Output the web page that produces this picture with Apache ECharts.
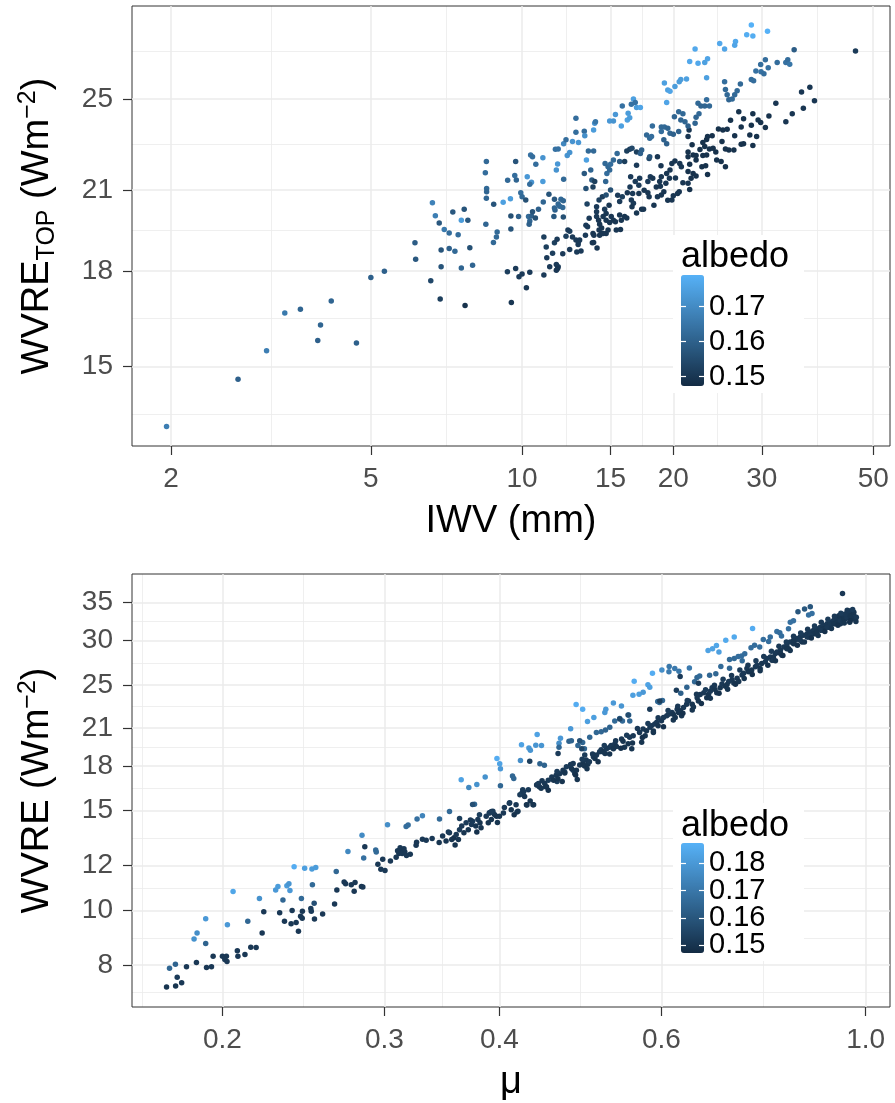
<!DOCTYPE html>
<html><head><meta charset="utf-8">
<script src="https://cdn.jsdelivr.net/npm/echarts@6/dist/echarts.min.js"></script>
<style>html,body{margin:0;padding:0;background:#fff}#c{width:895px;height:1103px}</style>
</head><body><div id="c"></div>
<script>
// ---------- Top panel: [IWV (mm), WVRE_TOP (W m^-2), albedo] ----------
const topLowIWV = [
[1.96,13.37,0.167],[2.72,14.63,0.160],[3.10,15.45,0.167],[3.37,16.61,0.166],[3.62,16.73,0.161],[3.97,16.23,0.161],
[3.92,15.76,0.160],[4.17,16.99,0.161],[4.68,15.68,0.160],[5.0,17.77,0.160],[5.32,17.99,0.160],[6.12,18.99,0.159],
[6.14,18.4,0.158],[6.58,17.66,0.154],[6.63,20.5,0.168],[6.72,20.0,0.167],[6.84,19.72,0.158],[7.0,19.48,0.166],
[6.9,18.73,0.157],[6.9,18.14,0.157],[6.87,17.06,0.152],[7.16,19.35,0.163],[7.16,18.79,0.160],[7.28,20.14,0.158],
[7.67,20.25,0.157],[7.46,19.29,0.163],[7.35,18.69,0.162],[7.87,18.81,0.156],[7.57,19.83,0.174],[7.8,19.83,0.158],
[7.57,18.1,0.161],[7.97,18.19,0.161],[7.7,16.85,0.149],[8.49,22.18,0.162],[8.45,21.71,0.163],[8.5,21.07,0.162],
[8.5,20.94,0.161],[8.49,20.68,0.161],[8.78,20.44,0.157],[8.47,19.68,0.161],[8.92,19.39,0.162],[8.89,19.2,0.162],
[8.77,19.0,0.162],[9.35,17.97,0.152],[9.52,16.94,0.150],[9.74,21.41,0.161],[9.71,22.18,0.157],[9.36,21.4,0.162],
[9.17,20.52,0.175],[9.48,20.66,0.174],[9.67,21.6,0.163],[9.5,19.5,0.157],[9.5,19.99,0.156],[9.71,18.08,0.151],
[9.86,17.8,0.151],[10.0,17.89,0.151],[10.36,17.95,0.151],[10.2,17.43,0.150],[9.84,19.97,0.160],[9.94,20.9,0.163],
[10.0,20.74,0.162],[10.17,20.61,0.156],[10.3,19.97,0.162],[10.44,19.99,0.160],[10.36,19.8,0.161],[10.33,19.68,0.160],
[10.63,19.91,0.156],[10.49,20.15,0.157],[10.78,20.25,0.160],[10.44,21.32,0.172],[10.36,21.24,0.163],[10.24,21.55,0.173],
[10.4,22.46,0.164],[10.49,22.39,0.163],[10.65,22.07,0.163],[11.0,22.34,0.172],[11.0,21.35,0.174],[11.02,20.53,0.161],
[11.31,20.84,0.157],[11.05,19.2,0.152],[11.17,18.84,0.152],[11.2,18.46,0.151],[11.05,17.86,0.151],[11.35,18.14,0.151]
];
const topMidIWV = [
[11.6,18.99,0.152],[11.74,19.12,0.151],[11.5,18.62,0.152],[11.7,18.22,0.151],[11.8,18.14,0.151],[11.57,19.97,0.158],
[11.63,20.22,0.160],[11.6,20.3,0.161],[11.6,20.64,0.158],[11.65,22.71,0.164],[11.8,22.72,0.164],[12.1,22.95,0.169],
[12.23,23.12,0.163],[12.3,22.44,0.172],[12.44,22.57,0.172],[11.77,22.08,0.173],[11.7,21.83,0.172],[12.1,21.44,0.162],
[11.95,20.64,0.162],[12.08,20.58,0.161],[12.05,20.32,0.162],[11.8,20.45,0.162],[11.88,20.37,0.162],[12.08,19.95,0.156],
[12.6,23.05,0.172],[12.8,24.1,0.163],[12.8,23.46,0.163],[12.95,23.0,0.173],[13.3,23.5,0.163],[13.33,23.3,0.171],
[13.43,22.25,0.175],[13.3,21.68,0.158],[13.4,21.07,0.156],[13.47,20.45,0.153],[13.55,22.63,0.162],[13.88,22.63,0.162],
[13.95,23.87,0.172],[13.88,23.56,0.174],[14.0,23.94,0.165],[13.7,21.83,0.161],[13.77,21.41,0.158],[13.84,21.13,0.152],
[13.95,21.35,0.152],[14.07,20.35,0.151],[14.07,20.15,0.151],[14.23,20.61,0.152],[14.45,20.74,0.152],[14.07,19.97,0.151],
[14.2,19.83,0.150],[14.27,19.68,0.150],[14.5,19.97,0.150],[14.6,20.25,0.151],[14.7,19.83,0.150],[14.94,19.74,0.150],
[14.7,20.09,0.150],[14.4,19.54,0.150],[15.05,19.97,0.150],[15.2,19.83,0.150],[15.64,20.03,0.150],[15.76,19.83,0.150],
[15.64,20.55,0.151],[16.0,19.97,0.150],[14.4,19.33,0.150],[13.84,19.33,0.150],[13.88,19.0,0.150],[14.27,19.27,0.150],
[14.7,19.33,0.150],[15.4,19.46,0.150],[15.7,19.48,0.150],[13.4,19.64,0.151],[13.37,19.27,0.151],[13.02,19.09,0.151],
[12.93,18.93,0.151],[12.85,18.66,0.151],[12.44,18.75,0.151],[12.44,19.42,0.152],[12.23,19.23,0.152],[12.05,18.6,0.151],
[11.77,18.08,0.150],[14.63,22.1,0.162],[14.75,21.68,0.163],[14.94,21.83,0.162],[14.83,21.96,0.162],[15.0,22.07,0.163],
[15.2,22.25,0.162],[15.46,22.53,0.162],[15.64,22.18,0.158],[14.67,21.35,0.161],[14.94,23.97,0.173],[15.2,23.97,0.172],
[15.76,23.74,0.175],[15.34,24.27,0.173],[15.83,24.66,0.164],[16.26,24.33,0.174],[16.2,24.02,0.175],[16.38,24.12,0.174],
[11.7,18.02,0.150],[12.34,19.46,0.151],[12.8,19.09,0.151],[12.95,19.03,0.151],[13.5,19.58,0.151],[13.8,18.99,0.150],
[13.9,19.27,0.150],[14.23,19.46,0.150],[14.5,19.33,0.150],[14.83,19.46,0.150],[15.34,19.77,0.150],[15.0,21.01,0.156],
[14.7,20.81,0.156],[15.83,20.74,0.152],[12.6,19.2,0.151],[13.1,18.7,0.151],[13.6,19.9,0.151],[14.1,18.8,0.150],
[14.9,20.4,0.150],[15.5,20.8,0.151]
];
const topHighIWV = [
[16.66,25.0,0.175],[16.8,24.83,0.164],[16.9,24.6,0.174],[17.2,24.6,0.176],[16.5,24.75,0.164],[16.16,22.63,0.152],
[16.0,22.18,0.152],[16.38,22.71,0.152],[16.55,22.75,0.154],[16.9,22.59,0.152],[17.2,22.53,0.160],[17.3,22.68,0.160],
[16.9,22.03,0.151],[17.14,21.48,0.151],[17.08,21.2,0.151],[16.8,21.35,0.151],[16.6,20.87,0.151],[16.5,20.61,0.151],
[16.66,20.48,0.151],[17.3,20.25,0.150],[17.45,20.25,0.150],[17.9,20.74,0.150],[17.8,20.9,0.150],[18.0,21.55,0.151],
[18.2,21.48,0.150],[17.8,21.35,0.151],[17.9,22.31,0.154],[17.95,23.19,0.162],[17.7,23.34,0.162],[18.1,23.27,0.163],
[18.17,23.74,0.163],[18.6,22.39,0.150],[18.79,21.35,0.150],[18.5,21.13,0.150],[18.85,21.16,0.150],[18.93,21.55,0.150],
[18.6,20.74,0.150],[18.93,20.81,0.150],[19.15,20.94,0.150],[19.33,21.28,0.150],[19.65,21.48,0.150],[19.7,21.83,0.150],
[19.4,21.68,0.150],[19.87,20.61,0.150],[20.0,20.78,0.150],[20.4,20.87,0.150],[20.55,20.94,0.150],[19.87,22.1,0.150],
[20.15,22.2,0.150],[20.6,22.1,0.150],[20.75,21.96,0.150],[21.4,22.59,0.149],[21.4,22.39,0.149],[21.56,22.07,0.149],
[21.9,22.46,0.149],[22.2,22.44,0.149],[22.2,22.25,0.149],[22.9,22.44,0.149],[23.3,22.46,0.149],[22.8,21.96,0.149],
[23.2,22.0,0.149],[21.4,21.76,0.149],[21.9,21.68,0.149],[21.7,21.48,0.149],[21.56,21.03,0.149],[21.4,21.28,0.150],
[22.2,21.58,0.149],[23.4,21.64,0.149],[21.4,23.27,0.150],[21.5,23.56,0.150],[23.1,22.83,0.149],[22.9,23.0,0.149],
[23.3,23.14,0.149],[23.4,23.27,0.149],[21.4,23.74,0.160],[22.1,23.87,0.161],[22.2,24.14,0.161],[22.5,24.3,0.162],
[22.4,24.8,0.162],[22.7,24.66,0.161],[23.3,24.96,0.163],[23.6,24.66,0.162],[23.1,24.66,0.161],[20.5,24.4,0.162],
[20.1,24.17,0.161],[20.7,24.02,0.161],[21.1,23.94,0.161],[20.9,24.3,0.162],[18.93,23.7,0.162],[19.2,23.7,0.162],
[19.5,23.64,0.161],[19.7,23.41,0.161],[20.0,23.37,0.160],[19.15,23.12,0.160],[19.4,22.95,0.160],[18.93,23.49,0.163],
[19.2,25.77,0.175],[19.5,25.43,0.175],[19.7,25.37,0.176],[19.4,24.83,0.176],[20.15,25.6,0.174],[20.55,25.84,0.174],
[20.7,25.95,0.174],[21.25,25.97,0.175],[21.56,26.86,0.177],[22.1,27.5,0.177],[22.4,26.77,0.177],[23.1,26.8,0.175],
[23.4,27.0,0.176],[23.3,26.03,0.175],[24.74,27.8,0.177],[25.3,27.5,0.176],[26.6,27.9,0.177],[26.5,27.7,0.176],
[28.0,28.27,0.178],[28.6,28.8,0.179],[28.8,28.2,0.178],[30.8,28.45,0.179],[25.3,25.84,0.163],[25.4,25.46,0.162],
[25.6,25.2,0.162],[25.8,24.96,0.161],[26.2,25.0,0.162],[26.5,25.2,0.162],[26.8,25.4,0.162],[27.2,25.72,0.162],
[28.6,25.95,0.163],[28.9,25.88,0.163],[29.2,26.37,0.164],[29.9,26.34,0.164],[30.3,26.23,0.163],[30.9,26.54,0.164],
[29.85,26.7,0.163],[30.5,26.94,0.163],[32.2,26.8,0.163],[33.5,26.8,0.164],[33.8,26.94,0.163],[34.1,26.72,0.165],
[34.8,27.46,0.159],[36.0,25.34,0.150],[37.4,25.57,0.150],[38.2,24.91,0.150],[36.3,24.56,0.150],[34.5,24.3,0.150],
[33.5,23.94,0.150],[46.1,27.4,0.151],[25.1,23.56,0.149],[25.6,23.59,0.149],[26.5,23.3,0.149],[27.3,23.7,0.149],
[27.6,24.07,0.149],[28.6,23.78,0.149],[28.8,24.3,0.149],[29.5,24.02,0.149],[29.85,23.9,0.149],[30.5,23.67,0.149],
[28.4,23.34,0.149],[29.3,23.27,0.149],[28.8,22.87,0.149],[27.6,22.95,0.149],[27.3,22.93,0.149],[25.4,22.72,0.149],
[25.8,22.68,0.149],[26.4,22.68,0.149],[25.0,23.05,0.149],[25.4,21.96,0.149],[24.4,22.25,0.149],[24.9,22.18,0.149],
[23.6,22.72,0.149],[24.3,22.59,0.149],[24.0,22.75,0.149],[20.5,23.49,0.160],[17.95,22.39,0.157],[16.45,21.55,0.151],
[16.4,21.13,0.151],[16.16,19.91,0.150],[16.55,20.35,0.150],[17.08,20.87,0.150],[16.2,20.9,0.150],[16.9,20.1,0.150],
[17.5,21.0,0.150],[18.3,20.4,0.150],[18.9,22.0,0.150],[19.5,20.6,0.150],[20.2,21.5,0.150],[20.9,21.3,0.150],
[21.8,22.9,0.149],[22.6,22.7,0.149],[23.9,23.3,0.149],[24.6,23.6,0.149],[26.0,24.0,0.149],[27.0,24.4,0.149],
[31.0,24.2,0.149],[32.0,24.8,0.150]
];

// ---------- Bottom panel: [mu, WVRE (W m^-2), albedo] ----------
const botLowMu = [
[0.1739,7.32,0.150],[0.1779,7.35,0.150],[0.1806,7.45,0.151],[0.1786,7.62,0.152],[0.1752,7.90,0.165],[0.1778,8.03,0.164],
[0.1828,7.95,0.151],[0.1874,8.09,0.151],[0.1922,7.93,0.151],[0.1946,7.95,0.151],[0.1954,8.30,0.151],[0.2000,8.30,0.151],
[0.2020,8.30,0.151],[0.2012,8.19,0.151],[0.2023,8.12,0.151],[0.2076,8.49,0.151],[0.2079,8.30,0.151],[0.2116,8.36,0.151],
[0.2147,8.61,0.151],[0.2176,8.60,0.151],[0.1863,8.90,0.178],[0.1877,9.12,0.177],[0.1918,9.67,0.180],[0.1918,8.74,0.164],
[0.2025,9.43,0.180],[0.2054,10.8,0.184],[0.2131,9.57,0.165],[0.2194,10.5,0.178],[0.2209,9.12,0.151],[0.2218,9.95,0.151],
[0.2285,10.87,0.180],[0.2298,11.02,0.181],[0.2350,11.06,0.181],[0.2362,11.15,0.179],[0.2368,10.84,0.180],[0.2393,11.94,0.186],
[0.2457,11.87,0.182],[0.2502,11.83,0.181],[0.2526,11.91,0.181],[0.2505,11.10,0.166],[0.2437,10.50,0.166],[0.2327,10.43,0.165],
[0.2308,9.90,0.151],[0.2336,9.57,0.151],[0.2381,10.0,0.151],[0.2375,9.47,0.151],[0.2405,9.52,0.151],[0.2419,9.19,0.151],
[0.2432,9.76,0.151],[0.2443,9.97,0.151],[0.2442,9.69,0.151],[0.2495,10.08,0.152],[0.2498,9.97,0.152],[0.2516,10.29,0.158],
[0.2518,9.66,0.151],[0.2570,9.85,0.151],[0.2648,10.26,0.151],[0.2659,11.72,0.165],[0.2663,10.87,0.151],[0.2712,11.23,0.151],
[0.2722,11.15,0.151],[0.2761,11.10,0.151],[0.2781,10.81,0.151],[0.2787,11.20,0.151],[0.2832,11.02,0.151],[0.2842,11.00,0.151],
[0.2738,12.71,0.175],[0.2836,13.58,0.176],[0.2848,12.37,0.168],[0.2856,12.95,0.151],[0.2935,12.79,0.166],[0.2939,12.68,0.166],
[0.2951,12.06,0.151],[0.2973,11.82,0.151],[0.3004,11.76,0.151],[0.2987,12.31,0.151],[0.3023,14.17,0.177],[0.3045,12.23,0.151],
[0.3089,12.42,0.151],[0.3110,12.60,0.151],[0.3125,12.79,0.151],[0.3136,12.60,0.151],[0.3157,12.68,0.151],[0.3200,12.56,0.151],
[0.3167,14.07,0.167],[0.3183,14.15,0.167],[0.3255,14.50,0.168],[0.3299,14.70,0.174],[0.3247,13.03,0.151],[0.3251,13.20,0.151],
[0.3299,13.36,0.151],[0.3120,12.90,0.151],[0.3150,12.85,0.151],[0.3170,12.50,0.151],[0.3100,12.75,0.151],[0.3330,13.30,0.151],
[0.3380,13.40,0.151]
];
const botUpperBands = [
[0.3635,17.02,0.183],[0.3705,16.48,0.175],[0.378,16.69,0.178],[0.386,17.21,0.178],[0.3975,18.56,0.186],[0.4003,18.16,0.183],
[0.401,17.80,0.180],[0.4216,18.40,0.177],[0.4227,19.62,0.183],[0.4306,19.36,0.180],[0.4322,19.19,0.179],[0.4381,19.58,0.179],
[0.4396,20.45,0.183],[0.4444,19.55,0.179],[0.4643,19.73,0.177],[0.466,20.14,0.180],[0.478,20.93,0.180],[0.4846,23.12,0.186],
[0.4926,22.66,0.186],[0.4986,21.56,0.182],[0.5066,21.92,0.182],[0.5207,22.37,0.180],[0.522,22.66,0.180],[0.532,23.24,0.180],
[0.5428,22.98,0.179],[0.5604,25.40,0.186],[0.5586,24.00,0.182],[0.5673,24.10,0.182],[0.5731,24.30,0.180],[0.58,25.05,0.183],
[0.5827,24.80,0.182],[0.5866,26.25,0.186],[0.6006,26.60,0.177],[0.6117,26.98,0.170],[0.6113,26.40,0.171],[0.6203,26.76,0.171],
[0.6268,26.46,0.170],[0.6434,26.80,0.171],[0.6742,28.80,0.183],[0.6818,29.00,0.183],[0.6885,29.38,0.184],[0.6928,28.62,0.182],
[0.7047,30.00,0.185],[0.7198,30.40,0.185],[0.7536,31.50,0.186],
[0.3443,14.50,0.166],[0.353,14.95,0.166],[0.3758,15.40,0.165],[0.401,16.60,0.165],[0.4133,17.28,0.165],[0.4146,17.10,0.165],
[0.4315,18.35,0.153],[0.4426,18.16,0.164],[0.4476,18.05,0.164],[0.4632,18.94,0.152],[0.4643,19.43,0.165],[0.476,19.90,0.164],
[0.4868,19.55,0.165],[0.4926,19.80,0.165],[0.4948,19.30,0.165],[0.5014,20.22,0.165],[0.5098,20.63,0.165],[0.516,20.68,0.165],
[0.5216,20.83,0.164],[0.5272,21.06,0.164],[0.5338,21.62,0.166],[0.5405,21.83,0.166],[0.5442,21.62,0.166],[0.5527,22.14,0.166],
[0.5542,21.62,0.165],[0.597,23.30,0.166],[0.6015,23.50,0.166],[0.5827,22.66,0.152],[0.6228,24.50,0.152],[0.6393,24.80,0.164],
[0.6287,25.90,0.152],[0.6518,25.35,0.165],[0.6558,25.80,0.165],[0.6602,25.95,0.166],[0.6768,26.02,0.165],[0.6874,26.20,0.165],
[0.6961,26.98,0.166],[0.7114,27.76,0.166],[0.7198,27.86,0.166],[0.727,28.10,0.167],[0.733,28.15,0.167],[0.739,28.40,0.167],
[0.7343,27.60,0.166],[0.7507,29.10,0.167],[0.7574,29.40,0.167],[0.7672,29.20,0.167],[0.7741,30.10,0.167],[0.7877,30.40,0.167],
[0.7845,29.85,0.167],[0.8009,31.10,0.168],[0.8067,30.95,0.167],[0.8102,30.55,0.167],[0.8245,31.45,0.168],[0.8282,32.30,0.168],
[0.8348,32.50,0.168],[0.8443,33.70,0.160],[0.8583,34.07,0.160],[0.8707,34.40,0.160],[0.867,33.25,0.168],[0.8744,33.45,0.168],
[0.9438,36.30,0.151],[0.6297,24.20,0.163],[0.6582,25.20,0.152],[0.7114,26.78,0.165],[0.5944,23.40,0.165],
[0.362,14.53,0.153],[0.374,15.38,0.158],[0.3805,14.75,0.153],[0.3902,14.88,0.153],[0.3935,14.97,0.152],[0.4104,15.50,0.152],
[0.4179,14.92,0.152],[0.4285,15.35,0.152],[0.4357,15.37,0.152],[0.4395,16.68,0.152],[0.449,16.54,0.152],[0.462,16.90,0.153],
[0.471,17.56,0.156],[0.4809,17.68,0.152],[0.4915,19.31,0.155],[0.4952,18.81,0.152],[0.4789,19.95,0.164],[0.489,19.95,0.158],
[0.5405,21.78,0.155],[0.5519,22.14,0.157],[0.5975,23.44,0.153]
];
const botDarkRibbon = [
[0.344,13.18,0.150],[0.347,13.53,0.151],[0.350,13.26,0.150],[0.353,13.71,0.151],[0.355,13.35,0.150],[0.357,13.44,0.149],
[0.359,13.62,0.151],[0.361,13.35,0.150],[0.362,13.89,0.152],[0.364,14.09,0.151],[0.366,13.71,0.150],[0.368,14.28,0.152],
[0.370,13.89,0.150],[0.373,14.18,0.151],[0.374,14.37,0.152],[0.377,14.09,0.150],[0.379,14.47,0.151],[0.381,14.28,0.150],
[0.382,13.99,0.150],[0.387,14.67,0.151],[0.389,14.28,0.150],[0.390,14.87,0.152],[0.392,14.47,0.150],[0.395,14.77,0.151],
[0.397,14.67,0.150],[0.400,14.67,0.150],[0.404,14.87,0.151],[0.410,15.47,0.152],[0.412,15.06,0.150],[0.417,15.37,0.151],
[0.419,14.97,0.150],[0.421,16.00,0.152],[0.423,16.10,0.153],[0.424,16.33,0.152],[0.426,15.89,0.151],[0.428,15.37,0.150],
[0.430,16.33,0.152],[0.435,15.37,0.150],[0.439,16.65,0.151],[0.441,16.76,0.152],[0.442,16.54,0.151],[0.444,16.43,0.150],
[0.448,16.76,0.151],[0.450,16.54,0.150],[0.452,16.98,0.152],[0.456,17.21,0.151],[0.458,16.98,0.150],[0.461,17.33,0.151],
[0.463,17.09,0.150],[0.465,17.44,0.151],[0.469,17.68,0.151],[0.471,17.49,0.150],[0.473,17.94,0.152],[0.479,17.82,0.150],
[0.481,18.18,0.151],[0.483,17.44,0.150],[0.485,17.68,0.150],[0.486,17.03,0.150],[0.489,18.06,0.151],[0.493,18.18,0.150],
[0.495,17.99,0.150],[0.497,18.43,0.151],[0.499,18.13,0.150],[0.501,18.30,0.151],[0.506,18.68,0.151],[0.508,18.56,0.150],
[0.510,18.81,0.151],[0.514,19.06,0.151],[0.516,19.23,0.152],[0.518,19.06,0.150],[0.521,18.93,0.150],[0.523,19.31,0.151],
[0.527,19.43,0.151],[0.529,19.56,0.151],[0.532,19.31,0.150],[0.534,19.69,0.151],[0.536,19.49,0.150],[0.543,20.09,0.151],
[0.545,19.90,0.150],[0.547,19.43,0.150],[0.552,19.69,0.150],[0.554,20.22,0.151],[0.557,19.31,0.150],[0.559,20.36,0.151],
[0.568,20.63,0.151],[0.571,19.83,0.150],[0.573,20.92,0.151],[0.576,20.36,0.150],[0.578,20.77,0.150],[0.583,21.06,0.151],
[0.585,21.20,0.151],[0.588,20.63,0.150],[0.590,21.34,0.151],[0.593,21.49,0.151],[0.595,21.20,0.150],[0.600,21.63,0.151],
[0.603,21.92,0.151],[0.608,22.07,0.151],[0.611,22.22,0.151],[0.616,22.37,0.151],[0.618,22.22,0.150],[0.621,21.92,0.150],
[0.624,22.67,0.151],[0.626,22.37,0.150],[0.629,22.52,0.150],[0.631,22.07,0.150],[0.634,22.82,0.151],[0.639,23.13,0.151],
[0.642,23.44,0.151],[0.648,23.13,0.150],[0.650,22.88,0.150],[0.656,23.75,0.151],[0.658,23.44,0.150],[0.661,24.07,0.151],
[0.667,24.23,0.151],[0.672,23.75,0.150],[0.675,24.07,0.150],[0.678,24.40,0.151],[0.681,24.73,0.151],[0.686,24.56,0.150],
[0.689,24.23,0.150],[0.695,24.73,0.150],[0.698,25.12,0.151],[0.704,24.89,0.150],[0.707,25.06,0.150],[0.710,25.38,0.151],
[0.716,25.55,0.151],[0.719,25.23,0.150],[0.725,25.72,0.151],[0.728,25.38,0.150],[0.734,26.07,0.151],[0.737,26.24,0.151],
[0.743,26.76,0.151],[0.746,26.41,0.150],[0.752,26.58,0.150],[0.759,26.94,0.151],[0.762,27.12,0.151],[0.768,26.76,0.150],
[0.771,27.31,0.150],[0.778,27.49,0.151],[0.781,27.86,0.151],[0.788,28.05,0.151],[0.791,27.67,0.150],[0.794,28.05,0.150],
[0.798,28.43,0.151],[0.801,28.62,0.151],[0.808,28.81,0.151],[0.811,28.24,0.150],[0.815,29.19,0.151],[0.821,29.39,0.151],
[0.825,29.00,0.150],[0.828,29.80,0.151],[0.835,29.60,0.150],[0.839,30.00,0.151],[0.842,30.22,0.151],[0.849,30.42,0.151],
[0.853,29.80,0.150],[0.856,30.63,0.151],[0.864,30.83,0.151],[0.867,30.42,0.150],[0.871,31.04,0.151],[0.878,31.25,0.151],
[0.882,30.83,0.150],[0.885,31.45,0.151],[0.893,31.66,0.151],[0.897,31.25,0.150],[0.900,31.87,0.151],[0.908,32.09,0.151],
[0.912,31.66,0.150],[0.915,32.30,0.151],[0.923,32.52,0.151],[0.927,32.09,0.150],[0.931,32.73,0.151],[0.939,32.95,0.151],
[0.943,32.30,0.150],[0.947,33.17,0.151],[0.950,32.73,0.150],[0.954,33.40,0.151],[0.958,32.95,0.150],[0.962,33.62,0.151],
[0.966,32.73,0.150],[0.971,33.17,0.151],[0.975,32.73,0.150],[0.977,32.95,0.151],
[0.900,31.45,0.150],[0.915,31.87,0.151],[0.931,32.30,0.150],[0.939,32.52,0.151],[0.947,32.73,0.150],[0.954,32.95,0.151],
[0.962,33.17,0.150],[0.919,32.09,0.151],[0.935,33.17,0.150],[0.950,33.40,0.151],[0.961,32.30,0.150],[0.864,30.42,0.151],
[0.878,30.83,0.150],[0.893,31.25,0.151],[0.835,30.00,0.150],[0.849,30.00,0.151],[0.821,29.00,0.150],[0.794,27.67,0.151],
[0.808,28.43,0.150],[0.871,30.63,0.151],[0.885,31.04,0.150],[0.908,31.66,0.151],[0.923,32.09,0.150],[0.939,32.09,0.151],
[0.971,33.62,0.150],[0.958,33.85,0.151]
];
const botRibbonUpperEdge = [
[0.352,13.75,0.152],[0.372,14.45,0.151],[0.392,14.95,0.152],[0.405,15.2,0.151],[0.425,16.2,0.152],[0.445,16.95,0.151],
[0.462,17.6,0.152],[0.478,18.1,0.151],[0.492,18.5,0.152],[0.505,18.9,0.151],[0.52,19.55,0.152],[0.535,19.95,0.151],
[0.55,20.4,0.152],[0.565,20.95,0.151],[0.58,21.4,0.152],[0.595,21.9,0.151],[0.61,22.55,0.152],[0.625,22.95,0.151],
[0.64,23.5,0.152],[0.655,24.1,0.151],[0.67,24.55,0.152],[0.685,25.0,0.151],[0.70,25.6,0.152],[0.715,26.0,0.151],
[0.73,26.6,0.152],[0.745,27.1,0.151],[0.76,27.6,0.152],[0.775,28.1,0.151],[0.79,28.7,0.152],[0.805,29.3,0.151],
[0.82,29.8,0.152],[0.835,30.5,0.151],[0.85,30.9,0.152],[0.865,31.4,0.151],[0.88,31.8,0.152],[0.895,32.3,0.151],
[0.91,32.7,0.152],[0.925,33.1,0.151],[0.94,33.5,0.152],[0.955,33.9,0.151],[0.968,34.0,0.152]
];
const botRibbonLowerEdge = [
[0.358,13.05,0.150],[0.378,13.75,0.149],[0.398,14.3,0.150],[0.415,14.75,0.149],[0.432,15.6,0.150],[0.452,16.3,0.149],
[0.468,16.9,0.150],[0.484,17.35,0.149],[0.498,17.8,0.150],[0.512,18.3,0.149],[0.527,18.9,0.150],[0.542,19.35,0.149],
[0.558,19.75,0.150],[0.572,20.2,0.149],[0.588,20.75,0.150],[0.603,21.1,0.149],[0.618,21.7,0.150],[0.633,22.3,0.149],
[0.648,22.6,0.150],[0.663,23.2,0.149],[0.678,23.7,0.150],[0.693,24.2,0.149],[0.708,24.6,0.150],[0.722,25.1,0.149],
[0.738,25.7,0.150],[0.753,26.1,0.149],[0.768,26.5,0.150],[0.783,27.1,0.149],[0.798,27.6,0.150],[0.813,28.2,0.149],
[0.828,28.8,0.150],[0.843,29.4,0.149],[0.858,29.8,0.150],[0.873,30.3,0.149],[0.888,30.6,0.150],[0.903,31.1,0.149],
[0.918,31.5,0.150],[0.933,31.9,0.149],[0.948,32.2,0.150],[0.962,32.5,0.149],[0.976,32.4,0.150]
];

// ---------- Axis breaks / tick labels ----------
const topXTicks = [2, 5, 10, 15, 20, 30, 50];
const topXMinor = [3.162, 7.071, 12.247, 17.321, 24.495, 38.730];
const topYTicks = [15, 18, 21, 25];
const topYMinor = [13.69, 16.43, 19.44, 22.91, 27.39];
const botXTicks = [0.2, 0.3, 0.4, 0.6, 1.0];
const botXMinor = [0.1635, 0.2449, 0.3464, 0.4899, 0.7746];
const botYTicks = [8, 10, 12, 15, 18, 21, 25, 30, 35];
const botYMinor = [7.17, 8.944, 10.954, 13.416, 16.432, 19.442, 22.913, 27.386, 32.404];
const topLegendTicks = [0.15, 0.16, 0.17];
const botLegendTicks = [0.15, 0.16, 0.17, 0.18];
const topAlbedoRange = [0.14734, 0.17906];
const botAlbedoRange = [0.14706, 0.18745];

const topData = [...topLowIWV, ...topMidIWV, ...topHighIWV];
const botData = [...botLowMu, ...botUpperBands, ...botDarkRibbon, ...botRibbonUpperEdge, ...botRibbonLowerEdge];

const FONT = '"Liberation Sans", Arial, Helvetica, sans-serif';
const TICK_COLOR = '#4D4D4D';
const gridLineMajor = {show: true, lineStyle: {color: '#EBEBEB', width: 1.5}};
const gridLineMinor = {show: true, lineStyle: {color: '#EBEBEB', width: 0.8}};

function majorAxis(gridIndex, min, max, ticks, fmt, name, nameGap, richName) {
  const ax = {
    gridIndex, type: 'log', logBase: 10, min, max,
    axisLine: {show: false},
    axisTick: {show: true, length: 9, lineStyle: {color: '#333333', width: 1.2}, customValues: ticks},
    axisLabel: {customValues: ticks, fontSize: 28, color: TICK_COLOR, fontFamily: FONT, margin: 19, formatter: fmt,
                showMinLabel: true, showMaxLabel: true},
    splitLine: gridLineMajor,
    minorSplitLine: {show: false},
    name, nameLocation: 'middle', nameGap,
    nameTextStyle: {fontSize: 38, color: '#000', fontFamily: FONT},
    z: 1
  };
  if (richName) {
    ax.nameRotate = 90;
    ax.nameTextStyle.rich = {
      m: {fontSize: 38, lineHeight: 44, color: '#000', fontFamily: FONT},
      s: {fontSize: 25, lineHeight: 25, color: '#000', fontFamily: FONT, verticalAlign: 'bottom'},
      p: {fontSize: 25, lineHeight: 25, color: '#000', fontFamily: FONT, verticalAlign: 'top'}
    };
  }
  return ax;
}
function minorAxis(gridIndex, min, max, vals, position) {
  return {
    gridIndex, type: 'log', logBase: 10, min, max, position,
    axisLine: {show: false}, axisTick: {show: false, customValues: vals},
    axisLabel: {show: false}, splitLine: gridLineMinor, z: 0
  };
}
// Colour-bar tick marks (white, both edges) and labels. Labels are split over
// two axes with alternate breaks so that none of them get dropped as overlapping.
function legendTicks(gridIndex, range, ticks, position) {
  return {
    gridIndex, type: 'value', min: range[0], max: range[1], position, z: 8,
    axisLine: {show: false},
    axisTick: {show: true, inside: true, length: 5, customValues: ticks, lineStyle: {color: '#FFFFFF', width: 1.2}},
    axisLabel: {show: false}, splitLine: {show: false}
  };
}
function legendLabels(gridIndex, range, ticks) {
  return {
    gridIndex, type: 'value', min: range[0], max: range[1], position: 'right', z: 8,
    axisLine: {show: false}, axisTick: {show: false, customValues: ticks},
    axisLabel: {show: true, customValues: ticks, fontSize: 29, color: '#000', fontFamily: FONT, margin: 5,
                showMinLabel: true, showMaxLabel: true, formatter: v => Number(v).toFixed(2)},
    splitLine: {show: false}
  };
}

const intFmt = v => String(Math.round(Number(v)));
const oneDec = v => Number(v).toFixed(1);
const everyOther = (arr, start) => arr.filter((_, i) => i % 2 === start);

const option = {
  animation: false,
  backgroundColor: '#FFFFFF',
  textStyle: {fontFamily: FONT},
  grid: [
    {left: 132, top: 6, width: 758, height: 440, show: true, borderColor: '#333333', borderWidth: 1, backgroundColor: 'transparent', z: 1},
    {left: 132, top: 574, width: 758, height: 439, show: true, borderColor: '#333333', borderWidth: 1, backgroundColor: 'transparent', z: 1},
    {left: 681, top: 275, width: 23, height: 111},
    {left: 681, top: 843, width: 23, height: 110}
  ],
  xAxis: [
    majorAxis(0, 1.673, 54.0, topXTicks, intFmt, 'IWV (mm)', 57, false),
    minorAxis(0, 1.673, 54.0, topXMinor, 'top'),
    majorAxis(1, 0.1595, 1.0629, botXTicks, oneDec, 'μ', 57, false),
    minorAxis(1, 0.1595, 1.0629, botXMinor, 'top'),
    {gridIndex: 2, type: 'value', show: false},
    {gridIndex: 3, type: 'value', show: false}
  ],
  yAxis: [
    majorAxis(0, 12.88, 29.86, topYTicks, intFmt, '{m|WVRE}{s|TOP}{m| (Wm}{p|−2}{m|)}', 72, true),
    minorAxis(0, 12.88, 29.86, topYMinor, 'right'),
    majorAxis(1, 6.75, 39.3, botYTicks, intFmt, '{m|WVRE (Wm}{p|−2}{m|)}', 72, true),
    minorAxis(1, 6.75, 39.3, botYMinor, 'right'),
    legendTicks(2, topAlbedoRange, topLegendTicks, 'left'),
    legendTicks(2, topAlbedoRange, topLegendTicks, 'right'),
    legendLabels(2, topAlbedoRange, everyOther(topLegendTicks, 0)),
    legendLabels(2, topAlbedoRange, everyOther(topLegendTicks, 1)),
    legendTicks(3, botAlbedoRange, botLegendTicks, 'left'),
    legendTicks(3, botAlbedoRange, botLegendTicks, 'right'),
    legendLabels(3, botAlbedoRange, everyOther(botLegendTicks, 0)),
    legendLabels(3, botAlbedoRange, everyOther(botLegendTicks, 1))
  ],
  visualMap: [
    {type: 'continuous', seriesIndex: 0, dimension: 2, min: topAlbedoRange[0], max: topAlbedoRange[1],
     inRange: {color: ['#132B43', '#56B1F7']}, calculable: false, hoverLink: false, orient: 'vertical',
     left: 681, top: 275, itemWidth: 23, itemHeight: 111, padding: 0, z: 5},
    {type: 'continuous', seriesIndex: 1, dimension: 2, min: botAlbedoRange[0], max: botAlbedoRange[1],
     inRange: {color: ['#132B43', '#56B1F7']}, calculable: false, hoverLink: false, orient: 'vertical',
     left: 681, top: 843, itemWidth: 23, itemHeight: 110, padding: 0, z: 5}
  ],
  graphic: [
    {type: 'rect', z: 3, shape: {x: 673, y: 235, width: 131, height: 158}, style: {fill: '#FFFFFF'}},
    {type: 'rect', z: 3, shape: {x: 673, y: 803, width: 131, height: 158}, style: {fill: '#FFFFFF'}},
    {type: 'text', z: 6, left: 681, top: 239, style: {text: 'albedo', font: '36px ' + FONT, fill: '#000'}},
    {type: 'text', z: 6, left: 681, top: 808, style: {text: 'albedo', font: '36px ' + FONT, fill: '#000'}}
  ],
  series: [
    {type: 'scatter', xAxisIndex: 0, yAxisIndex: 0, symbolSize: 5.5, data: topData, z: 2,
     itemStyle: {opacity: 1}, emphasis: {disabled: true}},
    {type: 'scatter', xAxisIndex: 2, yAxisIndex: 2, symbolSize: 5.5, data: botData, z: 2,
     itemStyle: {opacity: 1}, emphasis: {disabled: true}}
  ]
};

const chart = echarts.init(document.getElementById('c'), null, {renderer: 'canvas'});
chart.setOption(option);
</script>
</body></html>
